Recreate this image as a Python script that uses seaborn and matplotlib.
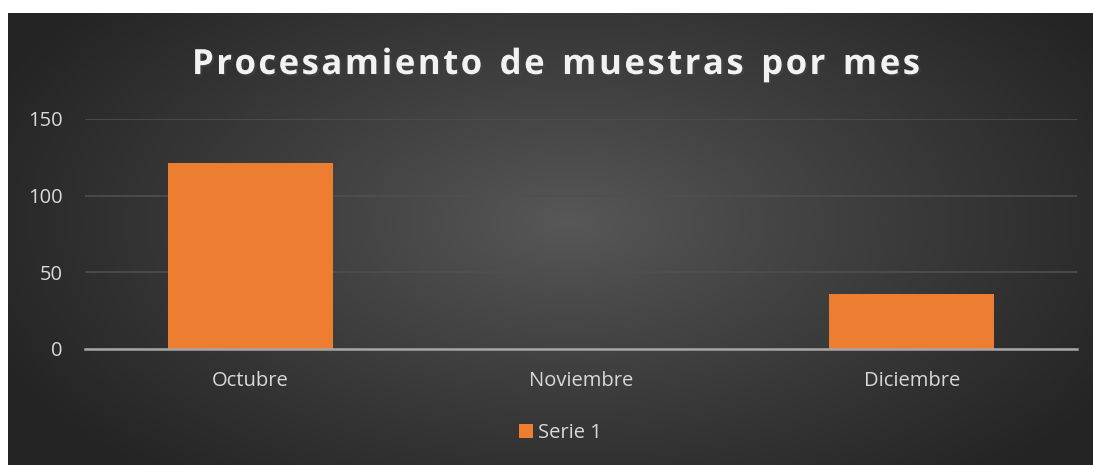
import numpy as np
import pandas as pd
import seaborn as sns
import matplotlib.pyplot as plt
import matplotlib.patheffects as pe

# datos del grafico
meses = ['Octubre', 'Noviembre', 'Diciembre']
muestras = [121, 0, 36]
serie = 'Serie 1'
titulo = 'Procesamiento de muestras por mes'

df = pd.DataFrame({'mes': meses, 'muestras': muestras})

sns.set_style('dark')
plt.rcParams['font.family'] = ['Open Sans', 'DejaVu Sans']

W, H = 1093, 465
fig = plt.figure(figsize=(W / 100, H / 100), dpi=100, facecolor='white')

# fondo con degradado radial
bg = fig.add_axes([8 / W, 0, 1 - 8 / W, 1 - 13 / H])
yy, xx = np.mgrid[0:452, 0:1085]
r = np.sqrt(((xx - 560) / 620.0) ** 2 + ((yy - 210) / 330.0) ** 2)
r = np.clip(r, 0, 1)
lum = 0.345 - (0.345 - 0.145) * r ** 0.9
img = np.dstack([lum, lum, lum])
bg.imshow(img, aspect='auto', interpolation='bilinear')
bg.set_axis_off()

ax = fig.add_axes([85 / W, 1 - 349 / H, 992 / W, 230 / H])
ax.patch.set_alpha(0)
sns.barplot(data=df, x='mes', y='muestras', color='#ED7D31', width=0.5,
            saturation=1, ax=ax, label=serie, zorder=3, linewidth=0)

ax.set_ylim(0, 150)
ax.set_yticks([0, 50, 100, 150])
ax.set_xlim(-0.5, 2.5)
ax.set_xlabel('')
ax.set_ylabel('')
for s in ['top', 'right', 'left']:
    ax.spines[s].set_visible(False)
ax.spines['bottom'].set_color('#a6a6a6')
ax.spines['bottom'].set_linewidth(1.8)
ax.spines['bottom'].set_zorder(4)
ax.grid(axis='y', color='#4f4f4f', linewidth=1.2, zorder=0)
ax.grid(axis='x', visible=False)
ax.tick_params(axis='both', length=0, colors='#d9d9d9', labelsize=14.5)
ax.tick_params(axis='y', pad=16)
ax.tick_params(axis='x', pad=16)

ax.legend(loc='center', bbox_to_anchor=(0.479, -0.365), frameon=False,
          handlelength=0.7, handleheight=0.7, handletextpad=0.25,
          labelcolor='#d9d9d9', fontsize=14.5)

# titulo con espaciado entre letras
renderer = fig.canvas.get_renderer()
tkw = dict(fontsize=25, fontweight='bold', color='#f2f2f2', va='baseline',
           path_effects=[pe.withSimplePatchShadow(offset=(1.5, -1.5), alpha=0.45)])
anchos = []
for c in titulo:
    t = fig.text(0, 0, c if c != ' ' else 'n', **tkw)
    bb = t.get_window_extent(renderer)
    anchos.append(bb.width * (0.55 if c == ' ' else 1))
    t.remove()
x0, x1 = 192, 920
extra = (x1 - x0 - sum(anchos)) / (len(titulo) - 1)
x = x0
for c, w in zip(titulo, anchos):
    if c != ' ':
        fig.text(x / W, 1 - 74 / H, c, **tkw)
    x += w + extra

fig.savefig('out.png', dpi=100, facecolor='white')
